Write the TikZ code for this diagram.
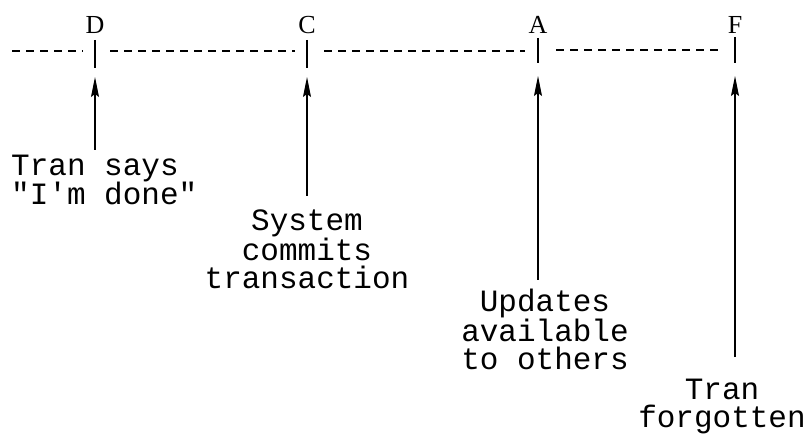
\documentclass[tikz,border=0pt]{standalone}
\usepackage{fontspec}
\setmainfont{Liberation Serif}
\newfontfamily\typefont{Liberation Mono}
\usetikzlibrary{arrows.meta}
\tikzset{
  timeline/.style={line width=1.5pt, dash pattern=on 8pt off 6pt},
  tick/.style={line width=1.1pt},
  event/.style={font={\fontsize{26}{28}\selectfont}, inner sep=0pt},
  note/.style={font={\typefont\fontsize{31}{28}\selectfont}, inner sep=0pt},
  pointer/.style={line width=1.1pt, -{Stealth[length=20pt,width=8pt,inset=3pt]}}
}
\begin{document}
\begin{tikzpicture}[x=1pt,y=-1pt]
  \useasboundingbox (0,0) rectangle (810,435);
  % event letters above the time axis
  \node[event] (lD) at (95,25) {D};
  \node[event] (lC) at (307,25) {C};
  \node[event] (lA) at (538,25) {A};
  \node[event] (lF) at (735,25) {F};
  % tick marks crossing the axis
  \coordinate (dTop) at (95,40);  \coordinate (dBot) at (95,68);
  \coordinate (cTop) at (307,40); \coordinate (cBot) at (307,68);
  \coordinate (aTop) at (538,38); \coordinate (aBot) at (538,63);
  \coordinate (fTop) at (735,37); \coordinate (fBot) at (735,63);
  \foreach \t in {d,c,a,f} \draw[tick] (\t Top) -- (\t Bot);
  % dashed time axis, broken around each tick
  \coordinate (axL) at (12,51);
  \draw[timeline] (axL) -- (83,51);
  \draw[timeline] (110,51) -- (295,51);
  \draw[timeline] (324,51) -- (525,51);
  \draw[timeline] (556,50) -- (722,50);
  % explanatory notes (positioned by the baseline of their last line)
  \node[note, anchor=base west, align=left] (nD) at (11,205) {Tran says\\"I'm done"};
  \node[note, anchor=base, align=center] (nC) at (307,288) {System\\commits\\transaction};
  \node[note, anchor=base, align=center] (nA) at (545,369) {Updates\\available\\to others};
  \node[note, anchor=base, align=center] (nF) at (722,427) {Tran\\forgotten};
  % pointers from notes up to the ticks
  \coordinate (dTail) at (95,150);  \coordinate (dTip) at (95,77);
  \coordinate (cTail) at (307,196); \coordinate (cTip) at (307,77);
  \coordinate (aTail) at (538,280); \coordinate (aTip) at (538,76);
  \coordinate (fTail) at (735,357); \coordinate (fTip) at (735,76);
  \foreach \t in {d,c,a,f} \draw[pointer] (\t Tail) -- (\t Tip);
\end{tikzpicture}
\end{document}
